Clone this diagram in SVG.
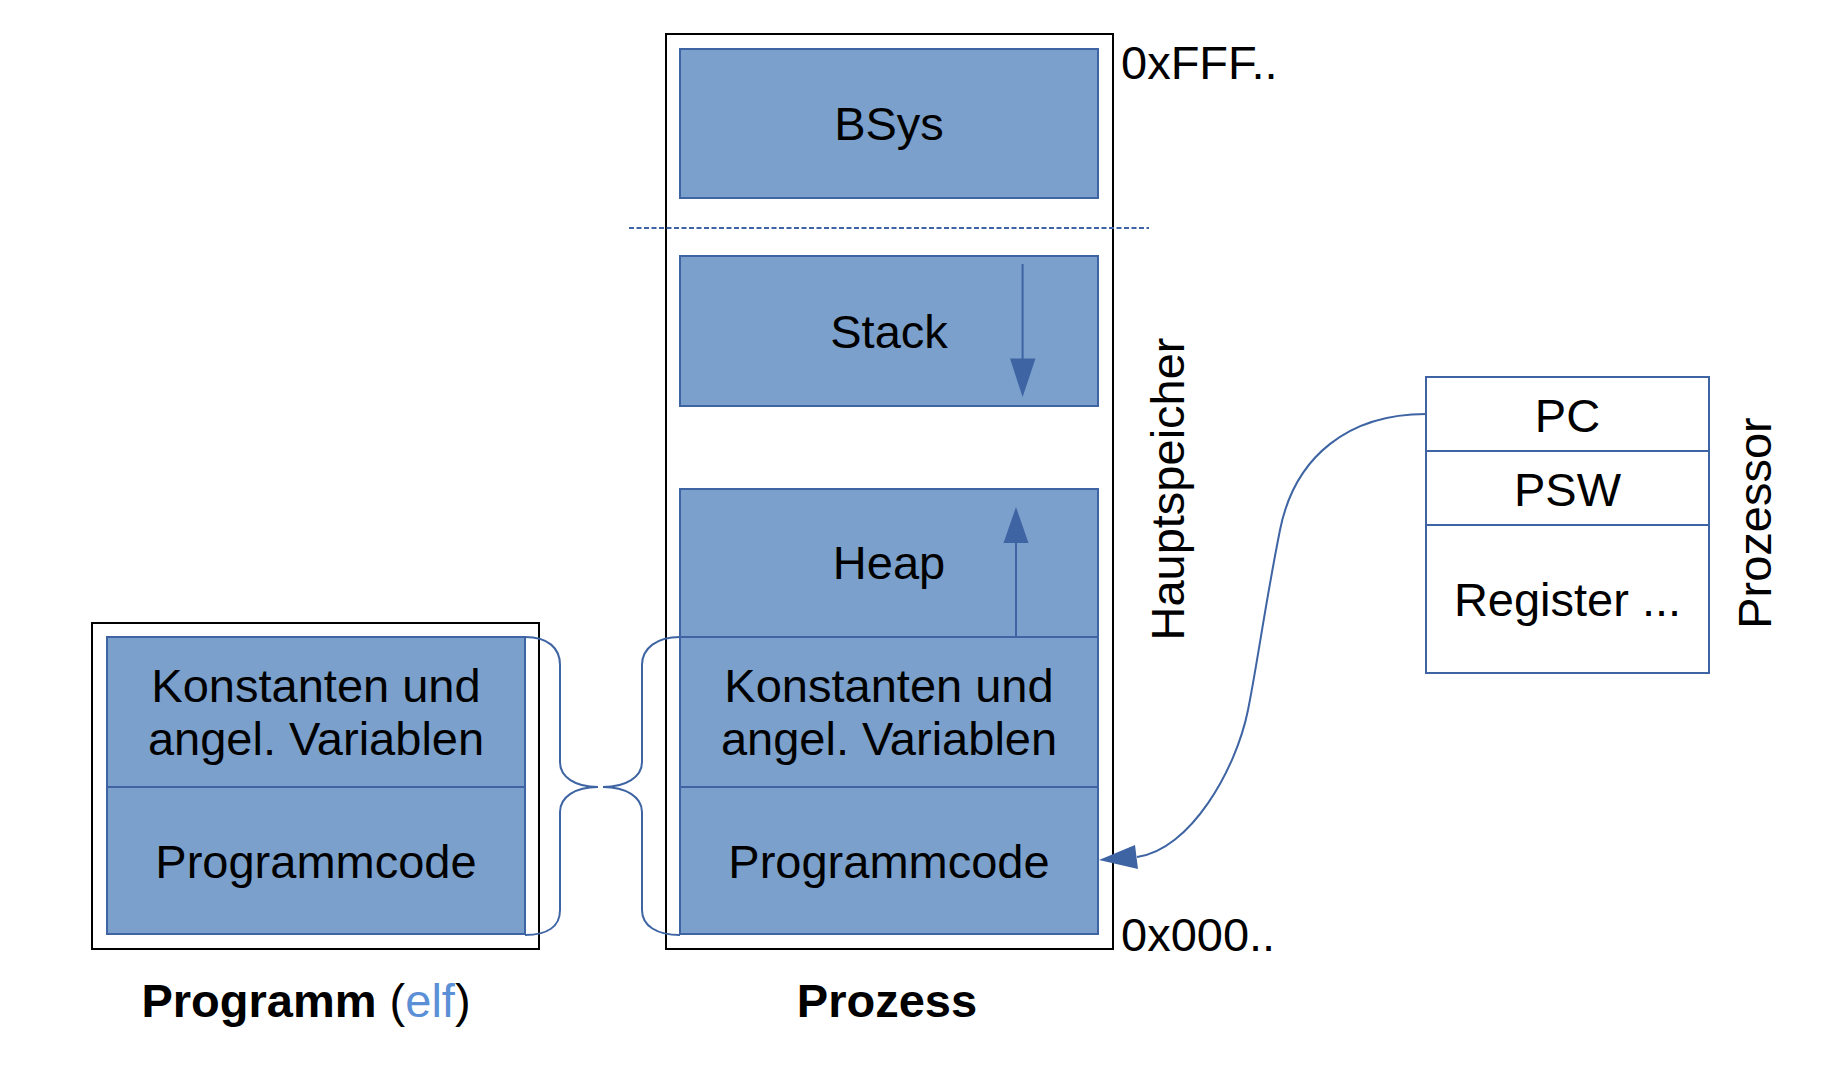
<svg xmlns="http://www.w3.org/2000/svg" width="1822" height="1066" viewBox="0 0 1822 1066">
<style>
.frame{fill:#fff;stroke:#000;stroke-width:2}
.seg{fill:#7aa0cb;stroke:#3e64a3;stroke-width:2}
.reg{fill:#fff;stroke:#3e64a3;stroke-width:2}
.t{font-family:"Liberation Sans",Arial,sans-serif;font-size:47px;fill:#000}
.c{text-anchor:middle}
.b{font-weight:bold}
.ln{fill:none;stroke:#3e64a3;stroke-width:2}
.hd{fill:#3e64a3;stroke:none}
</style>
<rect width="1822" height="1066" fill="#fff"/>

<g id="prozess">
  <rect class="frame" x="666" y="34" width="447" height="915"/>
</g>
<g id="bsys">
  <rect class="seg" x="680" y="49" width="418" height="149"/>
  <text class="t c" x="889" y="140">BSys</text>
</g>
<g id="stack">
  <rect class="seg" x="680" y="256" width="418" height="150"/>
  <text class="t c" x="889" y="348">Stack</text>
  <line class="ln" x1="1022.6" y1="264" x2="1022.6" y2="362"/>
  <polygon class="hd" points="1010,358.6 1035.5,358.6 1022.6,397"/>
</g>
<g id="heap">
  <rect class="seg" x="680" y="489" width="418" height="148"/>
  <text class="t c" x="889" y="579">Heap</text>
  <line class="ln" x1="1016" y1="637" x2="1016" y2="540"/>
  <polygon class="hd" points="1003.5,543 1028.5,543 1016,507"/>
</g>
<g id="prozess-konstanten">
  <rect class="seg" x="680" y="637" width="418" height="150"/>
  <text class="t c" x="889" y="702">Konstanten und</text>
  <text class="t c" x="889" y="755">angel. Variablen</text>
</g>
<g id="prozess-programmcode">
  <rect class="seg" x="680" y="787" width="418" height="147"/>
  <text class="t c" x="889" y="878">Programmcode</text>
</g>
<g id="adressen">
  <text class="t" x="1121" y="79">0xFFF..</text>
  <text class="t" x="1121" y="951">0x000..</text>
  <text class="t c" x="1184" y="489" transform="rotate(-90 1184 489)">Hauptspeicher</text>
</g>

<g id="programm">
  <rect class="frame" x="92" y="623" width="447" height="326"/>
</g>
<g id="programm-konstanten">
  <rect class="seg" x="107" y="637" width="418" height="150"/>
  <text class="t c" x="316" y="702">Konstanten und</text>
  <text class="t c" x="316" y="755">angel. Variablen</text>
</g>
<g id="programm-programmcode">
  <rect class="seg" x="107" y="787" width="418" height="147"/>
  <text class="t c" x="316" y="878">Programmcode</text>
</g>

<g id="prozessor">
  <rect class="reg" x="1426" y="377" width="283" height="74"/>
  <text class="t c" x="1567.5" y="432">PC</text>
  <rect class="reg" x="1426" y="451" width="283" height="74"/>
  <text class="t c" x="1567.5" y="506">PSW</text>
  <rect class="reg" x="1426" y="525" width="283" height="148"/>
  <text class="t c" x="1567.5" y="616">Register ...</text>
  <text class="t c" x="1771" y="523" transform="rotate(-90 1771 523)">Prozessor</text>
</g>

<g id="labels">
  <text class="t c" x="306" y="1017"><tspan class="b">Programm</tspan> (<tspan fill="#5b8fd6">elf</tspan>)</text>
  <text class="t c b" x="887" y="1017">Prozess</text>
</g>

<g id="connectors">
  <line x1="629" y1="228" x2="1149" y2="228" stroke="#3e64a3" stroke-width="2" stroke-dasharray="5 2.5"/>
  <path class="ln" d="M525,637 C548,637 560,648 560,665 L560,762 C560,777 575,787 598,787 C575,787 560,797 560,812 L560,910 C560,926 548,935 525,935"/>
  <path class="ln" d="M680,637 C657,637 642,648 642,665 L642,762 C642,777 626,787 603,787 C626,787 642,797 642,812 L642,910 C642,926 657,935 680,935"/>
  <path class="ln" d="M1426,414 C1350,414 1295,455 1280,530 C1265,605 1258,660 1248,710 C1236,770 1190,850 1137,857"/>
  <polygon class="hd" points="1099,860 1135,845 1138,869"/>
</g>
</svg>
